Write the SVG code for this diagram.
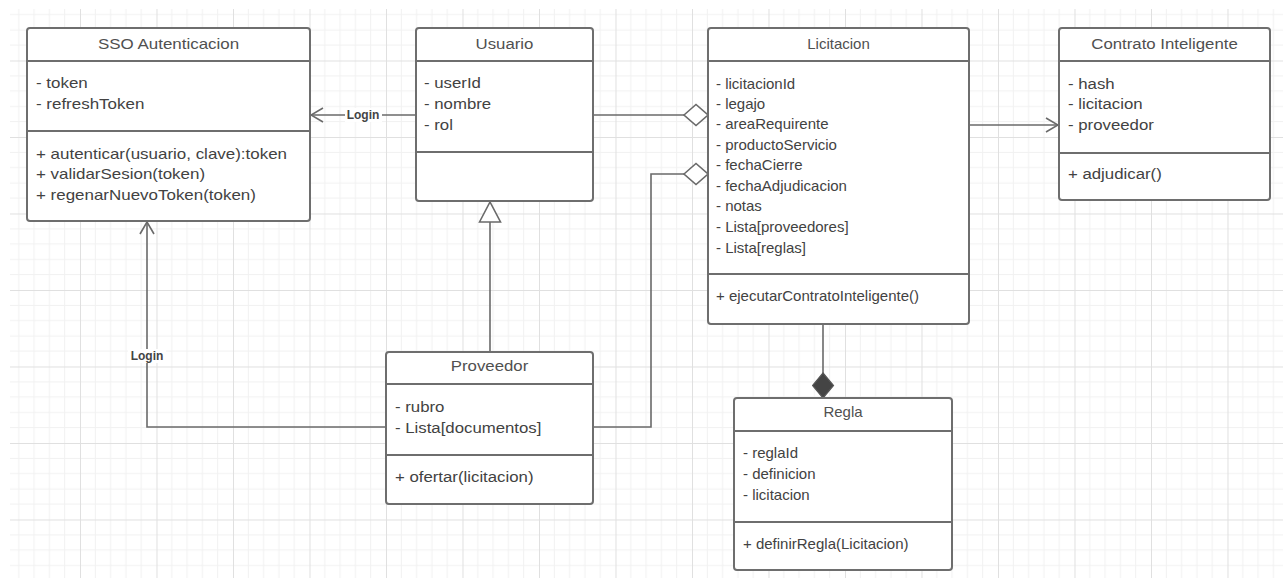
<svg xmlns="http://www.w3.org/2000/svg" width="1287" height="578" viewBox="0 0 1287 578">
<style>
  .box { fill: #ffffff; stroke: #6e6e6e; stroke-width: 2; }
  .sep { stroke: #6e6e6e; stroke-width: 2; }
  .t { font-family: "Liberation Sans", Arial, sans-serif; font-size: 15px; fill: #424242; }
  .title { text-anchor: middle; fill: #505050; }
  .conn { fill: none; stroke: #6a6a6a; stroke-width: 1.6; }
  .lbl { font-family: "Liberation Sans", Arial, sans-serif; font-size: 12px; font-weight: bold; fill: #444; text-anchor: middle; }
</style>
<defs>
  <pattern id="grid" width="76.5" height="76.5" patternUnits="userSpaceOnUse" x="3.5" y="60.5">
    <path d="M15.3,0 V76.5 M30.6,0 V76.5 M45.9,0 V76.5 M61.2,0 V76.5 M0,15.3 H76.5 M0,30.6 H76.5 M0,45.9 H76.5 M0,61.2 H76.5" stroke="#f1f1f1" stroke-width="1" fill="none"/>
    <path d="M0.5,0 V76.5 M0,0.5 H76.5" stroke="#e0e0e0" stroke-width="1" fill="none"/>
  </pattern>
  <marker id="open" viewBox="0 0 14 16" refX="13" refY="8" markerWidth="14" markerHeight="16" markerUnits="userSpaceOnUse" orient="auto">
    <path d="M1,1 L13,8 L1,15" fill="none" stroke="#6a6a6a" stroke-width="1.6"/>
  </marker>
  <marker id="hdiamond" viewBox="0 0 26 24" refX="25" refY="12" markerWidth="26" markerHeight="24" markerUnits="userSpaceOnUse" orient="auto">
    <path d="M1,12 L13,1.5 L25,12 L13,22.5 Z" fill="#ffffff" stroke="#6a6a6a" stroke-width="1.6"/>
  </marker>
  <marker id="fdiamond" viewBox="0 0 27 23" refX="26" refY="11.5" markerWidth="27" markerHeight="23" markerUnits="userSpaceOnUse" orient="auto">
    <path d="M1,11.5 L13.5,1 L26,11.5 L13.5,22 Z" fill="#444444" stroke="#555555" stroke-width="1.2"/>
  </marker>
  <marker id="tri" viewBox="0 0 22 24" refX="21" refY="12" markerWidth="22" markerHeight="24" markerUnits="userSpaceOnUse" orient="auto">
    <path d="M1,1.5 L21,12 L1,22.5 Z" fill="#ffffff" stroke="#6a6a6a" stroke-width="1.6"/>
  </marker>
</defs>

<rect x="0" y="0" width="1287" height="578" fill="#ffffff"/>
<rect x="10" y="9" width="1273" height="569" fill="url(#grid)"/>

<g id="connectors">
  <path class="conn" d="M416,115 H311" marker-end="url(#open)"/>
  <path class="conn" d="M593,115 H708" marker-end="url(#hdiamond)"/>
  <path class="conn" d="M593,427 H651 V174 H708" marker-end="url(#hdiamond)"/>
  <path class="conn" d="M490,352 V202" marker-end="url(#tri)"/>
  <path class="conn" d="M386,427 H147 V222" marker-end="url(#open)"/>
  <path class="conn" d="M969,125 H1058" marker-end="url(#open)"/>
  <path class="conn" d="M823,324 V398" marker-end="url(#fdiamond)"/>
  <rect x="345" y="108" width="37" height="14" fill="#ffffff"/>
  <text class="lbl" x="363" y="119">Login</text>
  <rect x="128" y="349" width="38" height="14" fill="#ffffff"/>
  <text class="lbl" x="147" y="360">Login</text>
</g>

<g id="sso">
  <rect class="box" x="27" y="28" width="283" height="193" rx="3"/>
  <line class="sep" x1="27" y1="61" x2="310" y2="61"/>
  <line class="sep" x1="27" y1="131" x2="310" y2="131"/>
  <g transform="matrix(1.13,0,0,1,-4.68,0)">
    <text class="t title" x="153.3" y="49">SSO Autenticacion</text>
    <text class="t" x="36" y="88">- token</text>
    <text class="t" x="36" y="109">- refreshToken</text>
    <text class="t" x="36" y="159">+ autenticar(usuario, clave):token</text>
    <text class="t" x="36" y="179">+ validarSesion(token)</text>
    <text class="t" x="36" y="200">+ regenarNuevoToken(token)</text>
  </g>
</g>

<g id="usuario">
  <rect class="box" x="416" y="28" width="177" height="173" rx="3"/>
  <line class="sep" x1="416" y1="61" x2="593" y2="61"/>
  <line class="sep" x1="416" y1="152" x2="593" y2="152"/>
  <g transform="matrix(1.12,0,0,1,-50.88,0)">
    <text class="t title" x="495.9" y="49">Usuario</text>
    <text class="t" x="424" y="88">- userId</text>
    <text class="t" x="424" y="109">- nombre</text>
    <text class="t" x="424" y="130">- rol</text>
  </g>
</g>

<g id="licitacion">
  <rect class="box" x="708" y="28" width="261" height="296" rx="3"/>
  <line class="sep" x1="708" y1="61" x2="969" y2="61"/>
  <line class="sep" x1="708" y1="274" x2="969" y2="274"/>
  <text class="t title" x="838.5" y="49">Licitacion</text>
  <text class="t" x="716" y="89">- licitacionId</text>
  <text class="t" x="716" y="109">- legajo</text>
  <text class="t" x="716" y="129">- areaRequirente</text>
  <text class="t" x="716" y="150">- productoServicio</text>
  <text class="t" x="716" y="170">- fechaCierre</text>
  <text class="t" x="716" y="191">- fechaAdjudicacion</text>
  <text class="t" x="716" y="211">- notas</text>
  <text class="t" x="716" y="232">- Lista[proveedores]</text>
  <text class="t" x="716" y="253">- Lista[reglas]</text>
  <text class="t" x="716" y="301">+ ejecutarContratoInteligente()</text>
</g>

<g id="contrato">
  <rect class="box" x="1059" y="28" width="211" height="172" rx="3"/>
  <line class="sep" x1="1059" y1="61" x2="1270" y2="61"/>
  <line class="sep" x1="1059" y1="153" x2="1270" y2="153"/>
  <g transform="matrix(1.12,0,0,1,-128.16,0)">
    <text class="t title" x="1154.2" y="49">Contrato Inteligente</text>
    <text class="t" x="1068" y="89">- hash</text>
    <text class="t" x="1068" y="109">- licitacion</text>
    <text class="t" x="1068" y="130">- proveedor</text>
    <text class="t" x="1068" y="179">+ adjudicar()</text>
  </g>
</g>

<g id="proveedor">
  <rect class="box" x="386" y="352" width="207" height="152" rx="3"/>
  <line class="sep" x1="386" y1="384" x2="593" y2="384"/>
  <line class="sep" x1="386" y1="455" x2="593" y2="455"/>
  <g transform="matrix(1.12,0,0,1,-47.4,0)">
    <text class="t title" x="479.4" y="371">Proveedor</text>
    <text class="t" x="395" y="412">- rubro</text>
    <text class="t" x="395" y="433">- Lista[documentos]</text>
    <text class="t" x="395" y="482">+ ofertar(licitacion)</text>
  </g>
</g>

<g id="regla">
  <rect class="box" x="734" y="398" width="218" height="172" rx="3"/>
  <line class="sep" x1="734" y1="431" x2="952" y2="431"/>
  <line class="sep" x1="734" y1="522" x2="952" y2="522"/>
  <text class="t title" x="843" y="417">Regla</text>
  <text class="t" x="743" y="458">- reglaId</text>
  <text class="t" x="743" y="479">- definicion</text>
  <text class="t" x="743" y="500">- licitacion</text>
  <text class="t" x="743" y="549">+ definirRegla(Licitacion)</text>
</g>
</svg>
